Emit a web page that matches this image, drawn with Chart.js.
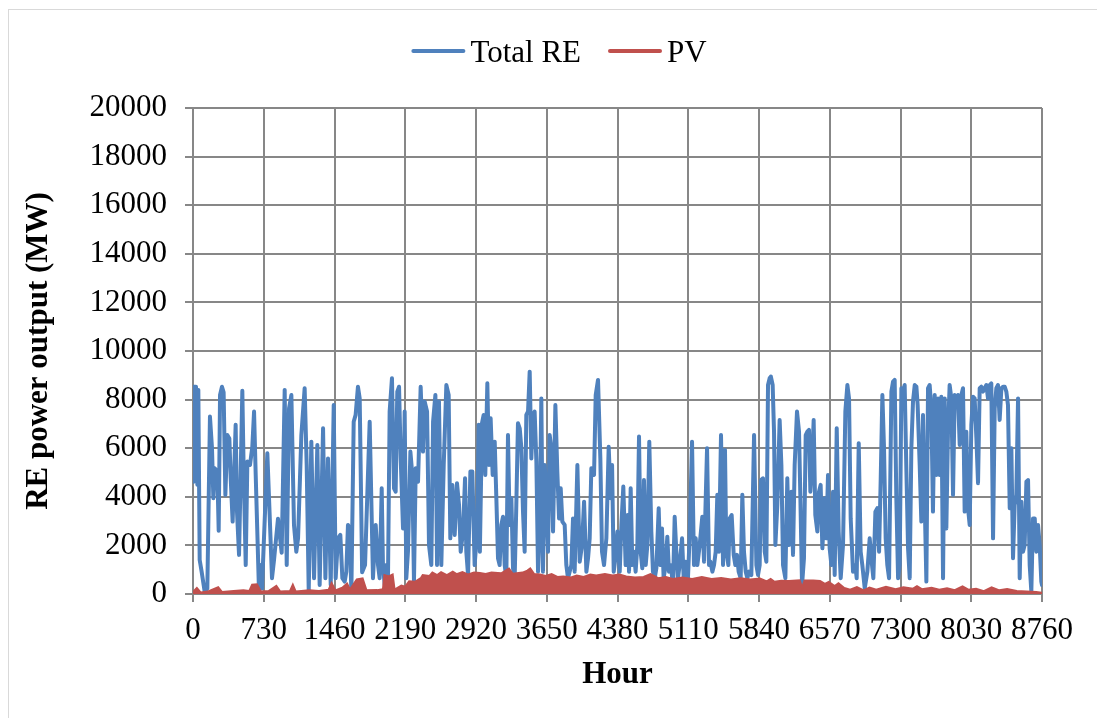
<!DOCTYPE html>
<html>
<head>
<meta charset="utf-8">
<script src="https://cdn.jsdelivr.net/npm/chart.js@4.4.0/dist/chart.umd.min.js"></script>
<style>
  html, body { margin: 0; padding: 0; background: #fff; }
  canvas { display: block; }
</style>
</head>
<body>
<canvas id="grafica" width="1097" height="718"></canvas>
<script>
// Horas del año y potencia total renovable (MW)
const horasRE = [
  0, 7, 31, 45, 55, 69, 89, 120, 148, 175,
  196, 210, 224, 251, 265, 279, 299, 316, 334, 354,
  375, 389, 409, 440, 454, 475, 509, 523, 544, 561,
  588, 612, 630, 647, 681, 702, 712, 767, 791, 815,
  836, 877, 915, 946, 967, 991, 1015, 1042, 1066, 1084,
  1118, 1152, 1173, 1194, 1221, 1249, 1283, 1307, 1342, 1366,
  1393, 1421, 1452, 1472,
  1496, 1520, 1541, 1565, 1582, 1599, 1616, 1634, 1658, 1678,
  1702, 1720, 1745, 1775, 1823, 1857, 1885, 1909, 1926, 1947,
  1960, 1978, 1995, 2012, 2029, 2053, 2074, 2091, 2108, 2126,
  2143, 2167, 2184, 2201, 2218, 2243, 2263, 2280, 2298, 2322,
  2349, 2373, 2390, 2415, 2435, 2459, 2477, 2501, 2518, 2538,
  2562, 2587, 2614, 2638, 2655, 2676, 2700, 2724, 2745, 2762,
  2786, 2807, 2820, 2838, 2862, 2882, 2906, 2931, 2948,
  2960, 2982, 2999, 3016, 3037, 3054, 3071, 3092, 3113, 3130,
  3147, 3164, 3181, 3199, 3216, 3233, 3250, 3267, 3285, 3302,
  3319, 3336, 3353, 3371, 3388, 3405, 3422, 3439, 3457, 3474,
  3491, 3508, 3525, 3543, 3560, 3577, 3594, 3611, 3629, 3646,
  3663, 3680, 3697, 3715, 3739, 3759, 3777, 3794, 3811, 3835,
  3852, 3869, 3904, 3921, 3938, 3966, 3990, 4014, 4035, 4059,
  4076, 4093, 4110, 4138, 4155, 4179, 4203, 4220, 4241, 4265,
  4289, 4310, 4324, 4341, 4358, 4379, 4403, 4420, 4440,
  4464, 4485, 4499, 4516, 4533, 4550, 4567, 4585, 4602, 4619,
  4636, 4653, 4671, 4688, 4708, 4729, 4746, 4764, 4781, 4805,
  4822, 4839, 4856, 4877, 4894, 4911, 4929, 4953, 4970, 4987,
  5004, 5021, 5046, 5063, 5083, 5107, 5125, 5149, 5169, 5187,
  5204, 5228, 5255, 5273, 5304, 5324, 5338, 5359, 5376, 5393,
  5410, 5427, 5448, 5469, 5489, 5503, 5524, 5537, 5558, 5579,
  5596, 5613, 5630, 5651, 5668, 5685, 5703, 5720, 5737, 5761,
  5789, 5813, 5830, 5847, 5861, 5881, 5899, 5916, 5933, 5950,
  5962, 5981, 5995, 6009, 6029, 6053, 6071, 6088, 6112, 6132,
  6150, 6174, 6191, 6208, 6232, 6253, 6267, 6284, 6304, 6322,
  6339, 6356, 6370, 6387, 6404, 6421, 6442, 6459, 6476, 6494,
  6518, 6535, 6552, 6569, 6587, 6604, 6621, 6642, 6662, 6683,
  6707, 6731, 6752, 6769, 6786, 6810, 6834, 6848, 6869, 6889,
  6906, 6931, 6958, 6982, 6999, 7020, 7041, 7061, 7079, 7096,
  7113, 7130, 7147, 7164, 7182, 7206, 7223, 7240, 7257, 7275,
  7292, 7309, 7326, 7343, 7361, 7378, 7395, 7412, 7429, 7447,
  7464,
  7477, 7498, 7515, 7532, 7549, 7567, 7584, 7601, 7618, 7635,
  7653, 7670, 7687, 7704, 7721, 7739, 7756, 7773, 7790, 7807,
  7825, 7842, 7859, 7876, 7893, 7911, 7928, 7945, 7962, 7979,
  7997, 8014, 8031, 8048, 8065, 8083, 8100, 8117, 8134, 8151,
  8169, 8186, 8203, 8220, 8237, 8255, 8272, 8289, 8306, 8323,
  8341, 8358, 8375, 8392, 8409, 8427, 8444, 8461, 8478, 8495,
  8513, 8530, 8547, 8564, 8581, 8599, 8616, 8633, 8650, 8667,
  8685, 8702, 8719, 8736, 8753, 8760
];
const valoresRE = [
  4620, 8530, 8530, 4500, 8400, 1400, 920, 100, 230, 7300,
  6000, 3940, 5170, 5040, 2600, 8190, 8530, 8300, 4080, 6540,
  6400, 4760, 2980, 6960, 3390, 1610, 8360, 5000, 1190, 5450,
  5310, 6060, 7510, 4900, 100, 1190, 230, 5790, 3250, 650,
  1400, 3100, 1700, 8400, 1190, 7640, 8190, 2840, 1740, 2290,
  6540, 8470, 5310, 100, 6270, 650, 6130, 370, 6820, 650,
  5580, 370, 7780, 650,
  2290, 2430, 650, 510, 920, 2840, 2700, 100, 7090, 7370,
  8530, 8050, 900, 1190, 7090, 650, 2840, 1190, 650, 4350,
  1190, 370, 1190, 650, 7510, 8880, 4350, 4210, 8330, 8530,
  5580, 2700, 7510, 650, 1740, 5860, 4900, 510, 5170, 4620,
  8530, 5860, 7920, 7510, 2020, 1190, 7090, 8190, 1190, 7920,
  1190, 5310, 8600, 8190, 2290, 4490, 2430, 4560, 3660, 1740,
  2570, 4760, 1740, 780, 5040, 5040, 1190, 2570, 6960,
  1740, 7030, 7370, 4900, 8670, 5310, 7230, 4900, 6270, 3940,
  1470, 1190, 2840, 3180, 1190, 650, 6540, 2840, 3940, 1060,
  650, 3660, 7030, 6820, 6000, 3390, 1740, 7370, 7510, 9150,
  5580, 7370, 7510, 5450, 920, 2700, 8050, 920, 5310, 3940,
  1740, 6540, 6000, 2570, 7780, 5040, 3110, 4350, 2980, 2840,
  1190, 650, 1190, 3110, 920, 5310, 1330, 2020, 3800, 920,
  1470, 2290, 5170, 4900, 8190, 8810, 5580, 1740, 1190, 2290,
  6060, 3940, 5310, 920, 1470, 2570, 920, 2840, 4420,
  1190, 3250, 920, 4350, 1190, 1740, 920, 2020, 6480, 1740,
  1060, 4690, 1190, 2020, 6270, 2570, 920, 650, 1060, 3530,
  1190, 2700, 650, 1190, 2360, 920, 1190, 370, 3180, 1740,
  650, 1190, 2290, 650, 1330, 650, 2430, 6270, 1190, 2290,
  1190, 2020, 3180, 1330, 6000, 1190, 1330, 920, 1190, 1740,
  4080, 1740, 6540, 1190, 5930, 1740, 1190, 3110, 3250, 1610,
  1190, 1610, 920, 650, 4080, 1740, 920, 650, 920, 780,
  6540, 1190, 780, 1190, 4690, 4760, 1740, 1330, 8600, 8880,
  8950, 8600, 6680, 2020, 3660, 7160, 5310, 1190, 650, 4760,
  2020, 4210, 1610, 5310, 7510, 6680, 3940, 370, 1470, 6540,
  6680, 6750, 4210, 5310, 7160, 3250, 2570, 4210, 4490, 1880,
  3940, 2290, 4900, 1880, 1190, 4210, 780, 6820, 2570, 650,
  2020, 7510, 8600, 8050, 3110, 920, 1190, 650, 6200, 1740,
  1190, 230, 920, 2290, 1470, 650, 3390, 3530, 1740, 4760,
  8190, 6000, 2290, 1190, 650, 8330, 8740, 8810, 3940, 650,
  1190, 8470, 8330, 8600, 5040, 1880, 650, 6000, 7920, 8600,
  8530,
  7780, 5310, 2980, 7370, 3940, 510, 8470, 8600, 7640, 3390,
  8190, 4900, 8050, 4900, 8120, 650, 8050, 2700, 6680, 8600,
  8050, 4080, 8190, 7920, 8190, 6130, 8190, 8470, 3390, 6680,
  3530, 2840, 6960, 8120, 8050, 6410, 4560, 8470, 8530, 8330,
  8470, 8600, 8050, 8600, 8670, 2290, 7640, 8470, 8600, 7160,
  8470, 8530, 8530, 8330, 7780, 3530, 6000, 1470, 3660, 4080,
  8050, 650, 3800, 1740, 2020, 4620, 4690, 1190, 100, 3110,
  3110, 1740, 2840, 2020, 510, 370
];

// Potencia fotovoltaica (máximos diarios, MW)
const horasPV = [
  0, 40, 80, 150, 260, 300, 420, 520, 580, 610,
  660, 700, 780, 860, 900, 1000, 1030, 1060, 1200, 1300,
  1400, 1430, 1470, 1540, 1590, 1620, 1690, 1750, 1790, 1900,
  1960, 1975, 2020, 2060, 2080, 2150, 2190, 2230, 2290, 2350,
  2370, 2440, 2470, 2520, 2560, 2620, 2680, 2720, 2780, 2840,
  2900, 2960, 3020, 3080, 3180, 3260, 3300, 3400, 3450, 3480,
  3520, 3580, 3640, 3700, 3760, 3820, 3900, 3960, 4030, 4100,
  4160, 4250, 4330, 4400, 4470, 4560, 4650, 4720, 4800, 4880,
  4950, 5050, 5150, 5250, 5350, 5450, 5550, 5650, 5750, 5850,
  5920, 5960, 6000, 6070, 6150, 6260, 6285, 6310, 6400, 6470,
  6520, 6560, 6620, 6660, 6720, 6780, 6850, 6920, 6980, 7050,
  7150, 7250, 7330, 7430, 7470, 7520, 7620, 7700, 7780, 7860,
  7940, 8000, 8080, 8160, 8240, 8320, 8400, 8500, 8600, 8700, 8760
];
const valoresPV = [
  80, 250, 60, 100, 280, 80, 120, 150, 120, 380,
  400, 100, 120, 330, 100, 120, 380, 100, 150, 120,
  180, 450, 150, 260, 430, 180, 600, 640, 150, 160,
  200, 780, 720, 800, 180, 350, 300, 520, 500, 650,
  780, 740, 880, 780, 900, 780, 920, 820, 900, 800,
  880, 860, 820, 880, 850, 1050, 830, 880, 960, 1050,
  820, 800, 740, 820, 700, 720, 680, 760, 700, 800,
  760, 820, 760, 800, 720, 680, 700, 820, 650, 700,
  620, 680, 620, 700, 620, 660, 600, 650, 600, 640,
  520, 620, 500, 550, 530, 560, 250, 560, 560, 540,
  420, 500, 330, 440, 250, 180, 280, 150, 260, 180,
  300, 200, 280, 220, 320, 200, 260, 180, 240, 160,
  310, 180, 220, 120, 270, 150, 200, 120, 100, 80, 50
];

// Marcas de los ejes
const etiquetasX = [0, 730, 1460, 2190, 2920, 3650, 4380, 5110, 5840, 6570, 7300, 8030, 8760];
const etiquetasY = [0, 2000, 4000, 6000, 8000, 10000, 12000, 14000, 16000, 18000, 20000];

const colorRE = "#4F81BD";
const colorPV = "#C0504D";
const colorRejilla = "#878787";
const fuente = "Liberation Serif";

// Marco y leyenda dibujados a mano (línea corta + texto)
const marcoYLeyenda = {
  id: "marcoYLeyenda",
  beforeDraw(chart) {
    const c = chart.ctx;
    c.save();
    c.fillStyle = "#fff";
    c.fillRect(0, 0, chart.width, chart.height);
    c.strokeStyle = "#d9d9d9";
    c.lineWidth = 1;
    c.strokeRect(8.5, 9.5, chart.width + 20, chart.height + 20);
    c.restore();
  },
  afterDraw(chart) {
    const c = chart.ctx;
    c.save();
    c.font = "31px '" + fuente + "'";
    const largo = 54, hueco = 5, separacion = 27;
    const items = chart.data.datasets.map(ds => ({
      texto: ds.label, color: ds.borderColor, ancho: c.measureText(ds.label).width
    }));
    const total = items.reduce((s, it) => s + largo + hueco + it.ancho, 0) + separacion * (items.length - 1);
    let x = 559 - total / 2;
    const y = 51;
    items.forEach(it => {
      c.strokeStyle = it.color;
      c.lineWidth = 4;
      c.lineCap = "round";
      c.beginPath();
      c.moveTo(x + 2, y);
      c.lineTo(x + largo - 2, y);
      c.stroke();
      c.fillStyle = "#000";
      c.textBaseline = "alphabetic";
      c.fillText(it.texto, x + largo + hueco, y + 10.5);
      x += largo + hueco + it.ancho + separacion;
    });
    c.restore();
  }
};

// Números de los ejes sin separador de miles
const sinSeparador = v => String(v);

const ctx = document.getElementById("grafica").getContext("2d");

new Chart(ctx, {
  type: "line",
  data: {
    datasets: [
      {
        label: "Total RE",
        data: horasRE.map((h, i) => ({ x: h, y: valoresRE[i] })),
        borderColor: colorRE,
        backgroundColor: colorRE,
        borderWidth: 4,
        borderJoinStyle: "round",
        borderCapStyle: "round",
        pointRadius: 0,
        tension: 0,
        fill: false,
        order: 1
      },
      {
        label: "PV",
        data: horasPV.map((h, i) => ({ x: h, y: valoresPV[i] })),
        borderColor: colorPV,
        backgroundColor: colorPV,
        borderWidth: 2,
        pointRadius: 0,
        tension: 0,
        fill: "origin",
        order: 0
      }
    ]
  },
  options: {
    responsive: false,
    animation: false,
    layout: { padding: { top: 108, right: 55, left: 0, bottom: 0 } },
    plugins: {
      legend: { display: false },
      tooltip: { enabled: false }
    },
    scales: {
      x: {
        type: "linear",
        min: 0,
        max: 8760,
        afterBuildTicks: s => { s.ticks = etiquetasX.map(v => ({ value: v })); },
        afterFit: s => { s.height = 124; },
        grid: { color: colorRejilla, lineWidth: 2, tickLength: 8 },
        border: { color: colorRejilla, width: 2 },
        ticks: {
          color: "#000",
          font: { family: fuente, size: 31 },
          padding: 10,
          maxRotation: 0,
          autoSkip: false,
          callback: sinSeparador
        },
        title: {
          display: true,
          text: "Hour",
          color: "#000",
          font: { family: fuente, size: 31, weight: "bold" },
          padding: { top: 0, bottom: 24 }
        }
      },
      y: {
        min: 0,
        max: 20000,
        afterBuildTicks: s => { s.ticks = etiquetasY.map(v => ({ value: v })); },
        afterFit: s => { s.width = 193; },
        grid: { color: colorRejilla, lineWidth: 2, tickLength: 8 },
        border: { color: colorRejilla, width: 2 },
        ticks: {
          color: "#000",
          font: { family: fuente, size: 31 },
          padding: 18,
          callback: sinSeparador
        },
        title: {
          display: true,
          text: "RE power output (MW)",
          color: "#000",
          font: { family: fuente, size: 31, weight: "bold" },
          padding: { top: 20, bottom: 0 }
        }
      }
    }
  },
  plugins: [marcoYLeyenda]
});
</script>
</body>
</html>
